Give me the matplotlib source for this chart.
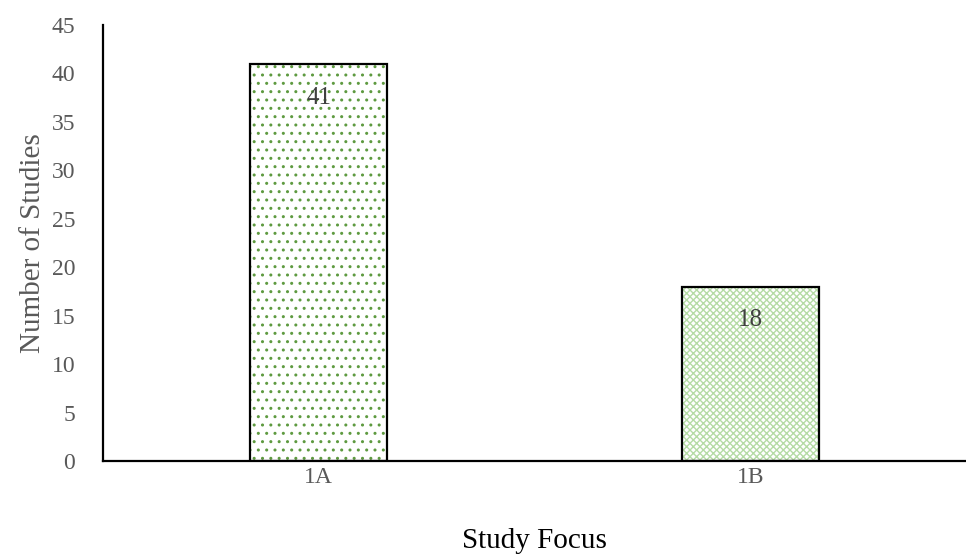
import matplotlib
matplotlib.use("Agg")
import matplotlib.pyplot as plt

categories = ["1A", "1B"]
values = [41, 18]
yticks = [0, 5, 10, 15, 20, 25, 30, 35, 40, 45]

plt.rcParams['font.family'] = ['Liberation Serif', 'DejaVu Serif']

fig = plt.figure(figsize=(9.66, 5.55), dpi=100)
ax = fig.add_axes([0.1066, 0.1694, 0.8934, 0.7856])

x = list(range(len(categories)))
width = 0.317
hatches = ['..', 'xxxxx']
hcolors = ['#5e9a40', '#b5dba5']
for xi, v, h, hc in zip(x, values, hatches, hcolors):
    ax.bar(xi, v, width=width, color='white', edgecolor=hc, linewidth=0, hatch=h)
    ax.bar(xi, v, width=width, fill=False, edgecolor='black', linewidth=1.6)
    ax.text(xi, v - 3.5, str(v), ha='center', va='center', fontsize=18, color='#404040')

ax.set_xlim(-0.5, 1.5)
ax.set_ylim(0, 45)
ax.set_yticks(yticks)
ax.set_xticks(x)
ax.set_xticklabels(categories)
ax.tick_params(axis='both', length=0, labelsize=17, colors='#595959')
ax.tick_params(axis='x', pad=4)
ax.tick_params(axis='y', pad=20)
for s in ['top', 'right']:
    ax.spines[s].set_visible(False)
for s in ['left', 'bottom']:
    ax.spines[s].set_linewidth(1.6)
    ax.spines[s].set_color('black')
ax.set_ylabel("Number of Studies", fontsize=21, color='#595959', labelpad=4)
ax.set_xlabel("Study Focus", fontsize=21, color='black', labelpad=29)

fig.savefig("out.png", dpi=100)
